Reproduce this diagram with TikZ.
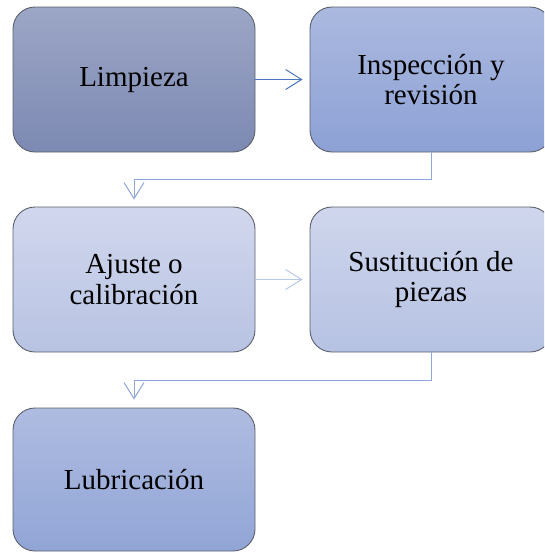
\documentclass[tikz,border=0pt]{standalone}
\usepackage{fontspec}
\setmainfont{Liberation Serif}
\usetikzlibrary{arrows.meta}

\definecolor{borde}{HTML}{5C616C}
\definecolor{flechaA}{HTML}{4A74C0}
\definecolor{flechaB}{HTML}{8EA8D8}
\definecolor{flechaC}{HTML}{B8C8E8}
\definecolor{limpA}{HTML}{9CA6C6}
\definecolor{limpB}{HTML}{7C89B2}
\definecolor{inspA}{HTML}{ABB9DF}
\definecolor{inspB}{HTML}{8DA1D5}
\definecolor{ajusA}{HTML}{D1D7ED}
\definecolor{ajusB}{HTML}{B8C3E3}
\definecolor{sustA}{HTML}{CFD6EC}
\definecolor{sustB}{HTML}{B6C2E3}
\definecolor{lubrA}{HTML}{AFBCE1}
\definecolor{lubrB}{HTML}{91A5D6}

\begin{document}
\begin{tikzpicture}[x=1pt,y=-1pt,
    paso/.style={draw=borde,line width=0.9pt,rounded corners=22pt,minimum width=242pt,minimum height=145pt,inner sep=0pt,align=center,font=\fontsize{29}{30.5}\selectfont},
    flecha/.style={line width=1pt,-{Straight Barb[length=16pt,width=20pt,line width=1pt]}}]
          \clip (0,0) rectangle (544,552);
          \node[paso,top color=limpA,bottom color=limpB] (limp) at (134,79.5) {Limpieza};
          \node[paso,top color=inspA,bottom color=inspB] (insp) at (431,79.5) {Inspección y\\revisión};
          \node[paso,top color=ajusA,bottom color=ajusB] (ajus) at (134,279.5) {Ajuste o\\calibración};
          \node[paso,top color=sustA,bottom color=sustB] (sust) at (431,279.5) {Sustitución de\\piezas};
          \node[paso,minimum height=143pt,top color=lubrA,bottom color=lubrB] (lubr) at (134,479.5) {Lubricación};
          \coordinate (codo1) at (134,179.5);
          \coordinate (codo2) at (134,380);
          \draw[flecha,flechaA,shorten >=7pt] (limp.east) -- (insp.west);
          \draw[flecha,flechaB] (insp.south) |- (codo1) -- ([yshift=7pt]ajus.north);
          \draw[flecha,flechaC,shorten >=7pt] (ajus.east) -- (sust.west);
          \draw[flecha,flechaB] (sust.south) |- (codo2) -- ([yshift=8pt]lubr.north);
        \end{tikzpicture}
\end{document}
